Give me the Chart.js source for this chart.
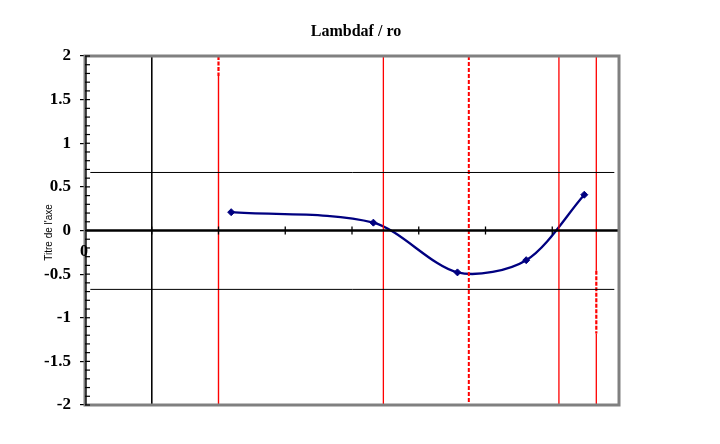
<!DOCTYPE html>
<html>
<head>
<meta charset="utf-8">
<script src="https://cdn.jsdelivr.net/npm/chart.js@4/dist/chart.umd.min.js"></script>
<style>
  html, body { margin: 0; padding: 0; background: #fff; }
</style>
</head>
<body>
<canvas id="myChart" width="720" height="444"></canvas>
<script>
const chartTitle = 'Lambdaf / ro';
const yAxisTitle = "Titre de l'axe";

// measured series
const xValues = [2.19, 4.32, 5.58, 6.61, 7.48];
const yValues = [0.21, 0.09, -0.48, -0.34, 0.41];

// vertical marker lines (x positions)
const redLineX = [2.0, 4.47, 5.75, 7.1, 7.66];
const blackLineX = [1.0];
// horizontal level lines
const levelY = [0.665, -0.675];

const xTicks = [0, 1, 2, 3, 4, 5, 6, 7, 8];
const yTicks = [-2, -1.5, -1, -0.5, 0, 0.5, 1, 1.5, 2];

const serifBold = "'Times New Roman', 'Liberation Serif', serif";

function piece(x, yFrom, yTo, color, width, dash) {
  return {
    data: [{x: x, y: yFrom}, {x: x, y: yTo}],
    showLine: true,
    borderColor: color,
    borderWidth: width,
    borderDash: dash || [],
    pointRadius: 0
  };
}

const datasets = [];

levelY.forEach(v => {
  datasets.push({
    data: [{x: 0.08, y: v}, {x: 7.93, y: v}],
    showLine: true, borderColor: '#000', borderWidth: 1, pointRadius: 0
  });
});

blackLineX.forEach(x => datasets.push(piece(x, 2, -2, '#000', 1)));

const red = '#ff0000';
datasets.push(piece(redLineX[0], 1.77, -2, red, 1.4));
datasets.push(piece(redLineX[0], 2, 1.77, red, 2.2, [4, 1.5]));
datasets.push(piece(redLineX[1], 2, -2, red, 1.3));
datasets.push(piece(redLineX[2], 2, -2, red, 2, [4, 2]));
datasets.push(piece(redLineX[3], 2, -2, red, 1.3));
datasets.push(piece(redLineX[4], 2, -0.46, red, 1.3));
datasets.push(piece(redLineX[4], -0.46, -1.18, red, 2.2, [4, 1.5]));
datasets.push(piece(redLineX[4], -1.18, -2, red, 1.3));

datasets.push({
  data: xValues.map((x, i) => ({x: x, y: yValues[i]})),
  showLine: true,
  borderColor: '#000080',
  backgroundColor: '#000080',
  borderWidth: 2.3,
  tension: 0.3,
  pointStyle: 'rectRot',
  pointRadius: 3.5,
  pointBorderWidth: 1
});

const framePlugin = {
  id: 'frame',
  afterDatasetsDraw(chart) {
    const ctx = chart.ctx;
    const xs = chart.scales.x, ys = chart.scales.y;
    const y0 = ys.getPixelForValue(0);
    ctx.save();
    // x axis through zero
    ctx.strokeStyle = '#000';
    ctx.lineWidth = 2.5;
    ctx.beginPath();
    ctx.moveTo(xs.getPixelForValue(0), y0);
    ctx.lineTo(xs.getPixelForValue(8), y0);
    ctx.stroke();
    ctx.lineWidth = 1.3;
    xTicks.forEach(t => {
      const px = xs.getPixelForValue(t);
      ctx.beginPath();
      ctx.moveTo(px, y0 - 4);
      ctx.lineTo(px, y0 + 4);
      ctx.stroke();
    });
    ctx.restore();
  },
  afterDraw(chart) {
    const ctx = chart.ctx;
    const a = chart.chartArea;
    const ys = chart.scales.y;
    ctx.save();
    // grey plot frame
    ctx.strokeStyle = '#808080';
    ctx.lineWidth = 3;
    ctx.strokeRect(a.left, a.top, a.right - a.left, a.bottom - a.top);
    // y axis line + minor ticks
    ctx.strokeStyle = '#000';
    ctx.lineWidth = 1.2;
    ctx.beginPath();
    ctx.moveTo(a.left + 1, a.top);
    ctx.lineTo(a.left + 1, a.bottom);
    ctx.stroke();
    for (let i = -20; i <= 20; i++) {
      const py = ys.getPixelForValue(i / 10);
      ctx.beginPath();
      ctx.moveTo(a.left, py);
      ctx.lineTo(a.left + 5, py);
      ctx.stroke();
    }
    // "0" label of x axis
    ctx.fillStyle = '#000';
    ctx.font = 'bold 16px ' + serifBold;
    ctx.textAlign = 'center';
    ctx.textBaseline = 'middle';
    ctx.fillText('0', a.left - 1, ys.getPixelForValue(0) + 21);
    // title
    ctx.font = 'bold 16px ' + serifBold;
    ctx.fillText(chartTitle, 356, 32);
    // y axis title
    ctx.translate(49, ys.getPixelForValue(0) + 2);
    ctx.rotate(-Math.PI / 2);
    ctx.font = "10px Arial, 'Liberation Sans', sans-serif";
    ctx.fillText(yAxisTitle, 0, 0);
    ctx.restore();
  }
};

new Chart(document.getElementById('myChart'), {
  type: 'scatter',
  data: { datasets: datasets },
  options: {
    responsive: false,
    animation: false,
    layout: { padding: { left: 0, top: 56, right: 101, bottom: 39 } },
    plugins: { legend: { display: false }, tooltip: { enabled: false }, title: { display: false } },
    scales: {
      x: {
        type: 'linear', min: 0, max: 8, display: false
      },
      y: {
        min: -2, max: 2,
        afterBuildTicks: s => { s.ticks = yTicks.map(v => ({value: v})); },
        afterFit: s => { s.width = 85; },
        ticks: {
          color: '#000',
          padding: 9,
          font: { family: serifBold, size: 17, weight: 'bold' },
          callback: v => String(v)
        },
        grid: { drawOnChartArea: false, color: '#000', tickLength: 5, lineWidth: 1.2 },
        border: { display: false }
      }
    }
  },
  plugins: [framePlugin]
});
</script>
</body>
</html>
